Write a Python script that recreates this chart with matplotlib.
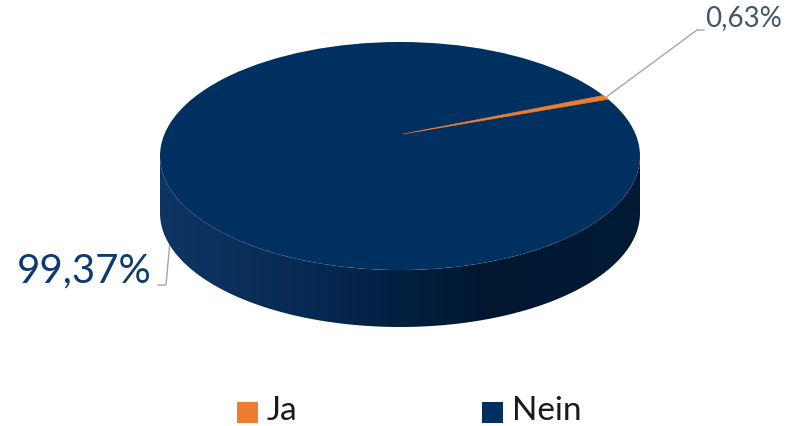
import numpy as np
import matplotlib.pyplot as plt
from matplotlib.patches import Polygon, Ellipse, Rectangle
from matplotlib.colors import LinearSegmentedColormap

# data
categories = ['Ja', 'Nein']
shares = [0.63, 99.37]
labels = ['0,63%', '99,37%']
colors = ['#ED7D31', '#00305F']

plt.rcParams['font.family'] = ['Lato', 'DejaVu Sans']

fig = plt.figure(figsize=(7.92, 4.26), dpi=100)
ax = fig.add_axes([0, 0, 1, 1])
ax.set_xlim(0, 792)
ax.set_ylim(426, 0)
ax.axis('off')

# pie geometry in pixels
cx, cy = 400, 156
a, b = 240, 114
depth = 57
apex = (403, 134)
start = 32.1  # degrees, slices go clockwise


def arc(t0, t1, n=200, dy=0):
    t = np.radians(np.linspace(t0, t1, n))
    return np.column_stack([cx + a * np.cos(t), cy - b * np.sin(t) + dy])


# front side with horizontal shading
top_edge = arc(180, 360)
bot_edge = arc(360, 180, dy=depth)
side = Polygon(np.vstack([top_edge, bot_edge]), closed=True, facecolor='none', edgecolor='none')
ax.add_patch(side)
cmap = LinearSegmentedColormap.from_list('side', [(0, '#0f3564'), (0.35, '#062750'),
                                                  (0.68, '#00172f'), (1, '#001a36')])
grad = np.linspace(0, 1, 256).reshape(1, -1)
img = ax.imshow(grad, cmap=cmap, extent=[cx - a, cx + a, cy + b + depth, cy - 2], aspect='auto', zorder=1)
img.set_clip_path(side)
ax.set_xlim(0, 792)
ax.set_ylim(426, 0)

# top face
ax.add_patch(Ellipse((cx, cy), 2 * a, 2 * b, facecolor=colors[1], edgecolor='none', zorder=2))
angles = start - np.cumsum([0] + [s * 3.6 for s in shares])
ja_pts = arc(angles[0], angles[1], n=20)
ax.add_patch(Polygon(np.vstack([[apex], ja_pts]), closed=True, facecolor=colors[0],
                     edgecolor=colors[0], linewidth=0.4, zorder=3))

# labels with leader lines
mid = np.radians((angles[0] + angles[1]) / 2)
px, py = cx + a * np.cos(mid), cy - b * np.sin(mid)
ax.plot([px, 697, 704], [py, 30, 30], color='#A6A6A6', lw=1, zorder=4)
ax.text(705, 18, labels[0], fontsize=20, color='#44546A', ha='left', va='center')

ax.plot([171, 166, 158], [230, 285, 285], color='#A6A6A6', lw=1, zorder=0)
ax.text(152, 271, labels[1], fontsize=29, color='#0E3A6E', ha='right', va='center')

# legend
for x, c, name in [(237, colors[0], categories[0]), (482, colors[1], categories[1])]:
    ax.add_patch(Rectangle((x, 402), 21, 21, facecolor=c, edgecolor='none'))
    ax.text(x + 30, 411, name, fontsize=24, color='#1A1A1A', ha='left', va='center')

fig.savefig('out.png', dpi=100)
